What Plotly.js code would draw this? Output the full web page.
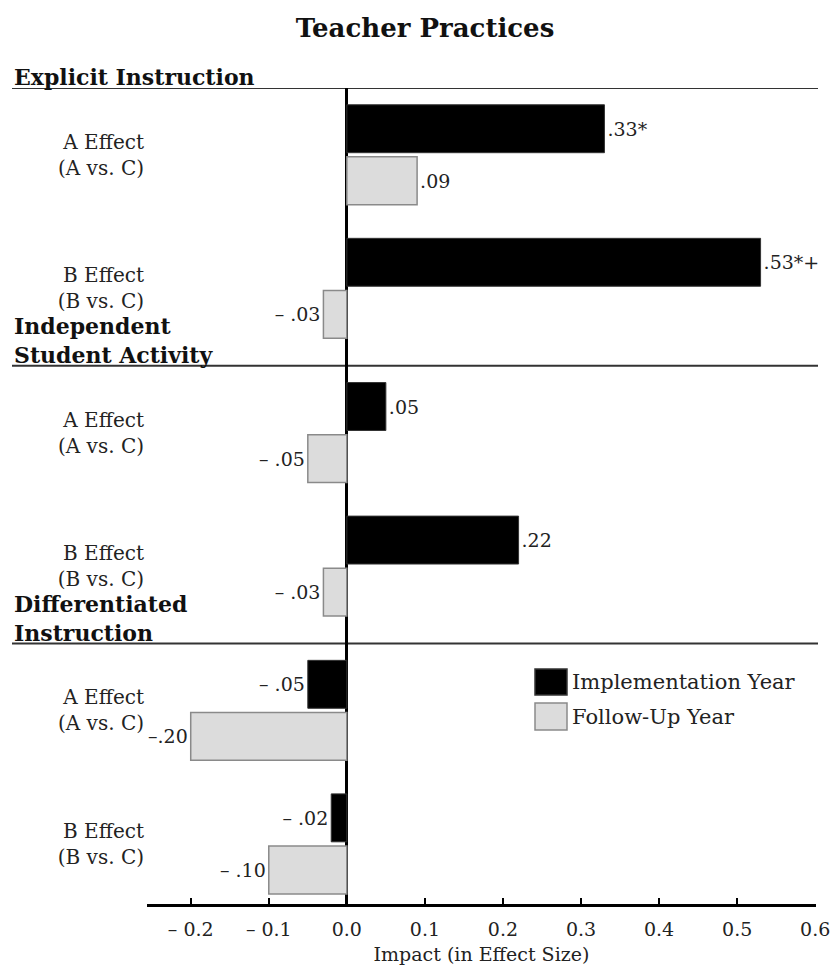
<!DOCTYPE html>
<html>
<head>
<meta charset="utf-8">
<script src="https://cdn.plot.ly/plotly-3.0.1.min.js"></script>
<style>
  html, body { margin: 0; padding: 0; background: #ffffff; }
  #chart { width: 840px; height: 973px; }
</style>
</head>
<body>
<div id="chart"></div>
<script>
// ---- data ----
const chartTitle = "Teacher Practices";
const sectionNames = ["Explicit Instruction", "Independent<br>Student Activity", "Differentiated<br>Instruction"];
const effectLabels = ["A Effect<br>(A vs. C)", "B Effect<br>(B vs. C)"];
const seriesNames = ["Implementation Year", "Follow-Up Year"];
const implementationYear = [0.33, 0.53, 0.05, 0.22, -0.05, -0.02];
const followUpYear = [0.09, -0.03, -0.05, -0.03, -0.20, -0.10];
const implementationText = [".33*", ".53*+", ".05", ".22", "\u2013 .05", "\u2013 .02"];
const followUpText = [".09", "\u2013 .03", "\u2013 .05", "\u2013 .03", "\u2013.20", "\u2013 .10"];
const xTickValues = [-0.2, -0.1, 0.0, 0.1, 0.2, 0.3, 0.4, 0.5, 0.6];
const xTickLabels = ["\u2013 0.2", "\u2013 0.1", "0.0", "0.1", "0.2", "0.3", "0.4", "0.5", "0.6"];
const xAxisTitle = "Impact (in Effect Size)";

// ---- layout helpers (structure -> row positions) ----
const SECTION_GAP = 0.08;
const perSection = effectLabels.length;
const rowPos = [];
const rowLabels = [];
sectionNames.forEach((s, si) => {
  effectLabels.forEach((lab, ei) => {
    rowPos.push(si * (perSection + SECTION_GAP) + ei + 0.5);
    rowLabels.push(lab);
  });
});
const sectionLinePos = sectionNames.map((s, si) => si * (perSection + SECTION_GAP));
const yBottom = rowPos[rowPos.length - 1] + 0.45;

const SERIF = "DejaVu Serif, serif";
const TXT = "#222222";

const traces = [
  {
    type: "bar", orientation: "h", name: seriesNames[0],
    x: implementationYear, y: rowPos,
    text: implementationText, textposition: "outside", cliponaxis: false,
    constraintext: "none",
    textfont: { family: SERIF, size: 19, color: TXT },
    marker: { color: "#000000", line: { color: "#333333", width: 1 } },
    showlegend: false, hoverinfo: "x"
  },
  {
    type: "bar", orientation: "h", name: seriesNames[1],
    x: followUpYear, y: rowPos,
    text: followUpText, textposition: "outside", cliponaxis: false,
    constraintext: "none",
    textfont: { family: SERIF, size: 19, color: TXT },
    marker: { color: "#dcdcdc", line: { color: "#8a8a8a", width: 1.5 } },
    showlegend: false, hoverinfo: "x"
  }
];

const PLOT_L = 147, PLOT_R = 816, PLOT_T = 88, PLOT_B = 904;
const pw = PLOT_R - PLOT_L, ph = PLOT_B - PLOT_T;
const px2paperX = p => (p - PLOT_L) / pw;
const px2paperY = p => (PLOT_B - p) / ph;

const shapes = [];
const annotations = [];

// section separator lines + headers
sectionNames.forEach((s, si) => {
  shapes.push({
    type: "line", xref: "paper", yref: "y",
    x0: px2paperX(12), x1: px2paperX(818),
    y0: sectionLinePos[si], y1: sectionLinePos[si],
    line: { color: "#333333", width: 2 }, layer: "below"
  });
  annotations.push({
    xref: "paper", yref: "y",
    x: px2paperX(12), y: sectionLinePos[si],
    xanchor: "left", yanchor: "bottom", align: "left",
    showarrow: false, text: "<b>" + s + "</b>",
    font: { family: SERIF, size: 22, color: "#111111" },
    yshift: -4
  });
});

// custom legend
const legendColors = [
  { fill: "#000000", line: "#333333" },
  { fill: "#dcdcdc", line: "#8a8a8a" }
];
const legendRows = [[669, 695], [703, 730]];
seriesNames.forEach((n, i) => {
  shapes.push({
    type: "rect", xref: "paper", yref: "paper",
    x0: px2paperX(535), x1: px2paperX(567),
    y0: px2paperY(legendRows[i][1]), y1: px2paperY(legendRows[i][0]),
    fillcolor: legendColors[i].fill,
    line: { color: legendColors[i].line, width: 1.5 }
  });
  annotations.push({
    xref: "paper", yref: "paper",
    x: px2paperX(570), y: px2paperY((legendRows[i][0] + legendRows[i][1]) / 2),
    xanchor: "left", yanchor: "middle", showarrow: false,
    text: n, font: { family: SERIF, size: 21, color: TXT }
  });
});

const layout = {
  width: 840, height: 973,
  paper_bgcolor: "#ffffff", plot_bgcolor: "#ffffff",
  margin: { l: PLOT_L, r: 840 - PLOT_R, t: PLOT_T, b: 973 - PLOT_B, pad: 0 },
  title: {
    text: "<b>" + chartTitle + "</b>",
    font: { family: SERIF, size: 26, color: "#111111" },
    xref: "container", x: 425 / 840, xanchor: "center",
    yref: "container", y: 1 - 28 / 973, yanchor: "middle"
  },
  barmode: "group", bargap: 0.22, bargroupgap: 0.08,
  showlegend: false,
  xaxis: {
    range: [-0.256, 0.601],
    tickvals: xTickValues, ticktext: xTickLabels,
    ticks: "inside", ticklen: 6, tickwidth: 2, tickcolor: "#000000",
    ticklabelstandoff: 6,
    tickfont: { family: SERIF, size: 19, color: TXT },
    showline: true, linecolor: "#000000", linewidth: 3,
    showgrid: false,
    zeroline: true, zerolinecolor: "#000000", zerolinewidth: 3,
    title: { text: xAxisTitle, font: { family: SERIF, size: 19, color: TXT }, standoff: 9 }
  },
  yaxis: {
    range: [yBottom, 0],
    tickvals: rowPos, ticktext: rowLabels,
    ticks: "", showline: false, showgrid: false, zeroline: false,
    tickfont: { family: SERIF, size: 20, color: TXT },
    ticklabelstandoff: 2, ticklabelshift: 0
  },
  shapes: shapes,
  annotations: annotations
};

Plotly.newPlot("chart", traces, layout, { displayModeBar: false, staticPlot: true });
</script>
</body>
</html>
